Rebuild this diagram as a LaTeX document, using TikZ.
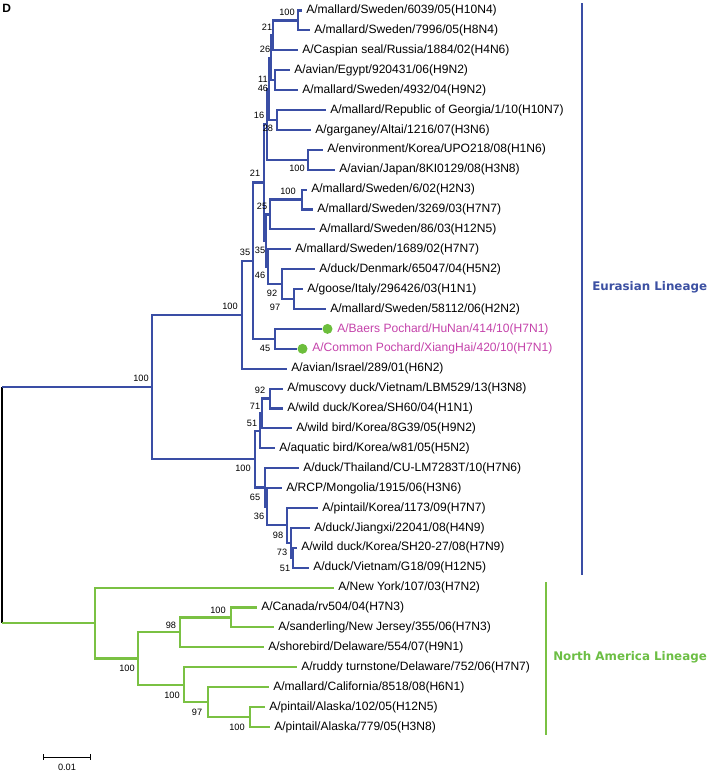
\documentclass[tikz,border=0pt]{standalone}
\usepackage{fontspec}
\setmainfont{Liberation Sans}
\newfontfamily\verd{DejaVu Sans}
\definecolor{eublue}{RGB}{58,78,165}
\definecolor{nagreen}{RGB}{122,193,67}
\definecolor{dotgreen}{RGB}{108,190,60}
\definecolor{pochard}{RGB}{196,66,170}
\definecolor{eutext}{RGB}{60,80,162}
\definecolor{natext}{RGB}{108,190,68}
\newcommand\leafat[4]{\coordinate (#1) at (#2,#3);\node[leaf] (t#1) at (#2+4,#3) {#4};}
\begin{document}
\begin{tikzpicture}[x=0.75pt,y=-0.75pt,
  eu/.style={draw=eublue,line width=1.6pt},
  na/.style={draw=nagreen,line width=1.6pt},
  leaf/.style={anchor=west,inner sep=0pt,font=\fontsize{9.05}{10}\selectfont},
  bs/.style={inner sep=0pt,font=\fontsize{6.9}{8}\selectfont},
  lin/.style={anchor=west,inner sep=0pt,font=\verd\bfseries\fontsize{8.9}{10}\selectfont},
  dotmark/.style={circle,fill=dotgreen,inner sep=0pt,minimum size=7.5pt}
]
\useasboundingbox (0,0) rectangle (708,772);
\node[anchor=north west,inner sep=0pt,font=\bfseries\fontsize{9}{10}\selectfont] (panel) at (2,4) {D};
% leaves
\leafat{L1}{302}{10.5}{A/mallard/Sweden/6039/05(H10N4)}
\leafat{L2}{310}{30.4}{A/mallard/Sweden/7996/05(H8N4)}
\leafat{L3}{298}{50.3}{A/Caspian seal/Russia/1884/02(H4N6)}
\leafat{L4}{290}{70.2}{A/avian/Egypt/920431/06(H9N2)}
\leafat{L5}{298}{90.1}{A/mallard/Sweden/4932/04(H9N2)}
\leafat{L6}{326}{110.0}{A/mallard/Republic of Georgia/1/10(H10N7)}
\leafat{L7}{311}{129.9}{A/garganey/Altai/1216/07(H3N6)}
\leafat{L8}{323}{149.8}{A/environment/Korea/UPO218/08(H1N6)}
\leafat{L9}{335}{169.7}{A/avian/Japan/8KI0129/08(H3N8)}
\leafat{L10}{307}{189.6}{A/mallard/Sweden/6/02(H2N3)}
\leafat{L11}{313}{209.5}{A/mallard/Sweden/3269/03(H7N7)}
\leafat{L12}{315}{229.4}{A/mallard/Sweden/86/03(H12N5)}
\leafat{L13}{291}{249.3}{A/mallard/Sweden/1689/02(H7N7)}
\leafat{L14}{315}{269.2}{A/duck/Denmark/65047/04(H5N2)}
\leafat{L15}{303}{289.1}{A/goose/Italy/296426/03(H1N1)}
\leafat{L16}{326}{309.0}{A/mallard/Sweden/58112/06(H2N2)}
\coordinate (L17) at (322,328.9);
\node[dotmark] (d17) at (327.5,328.9) {};
\node[leaf,text=pochard] (tL17) at (337,328.9) {A/Baers Pochard/HuNan/414/10(H7N1)};
\coordinate (L18) at (297,348.8);
\node[dotmark] (d18) at (302.5,348.8) {};
\node[leaf,text=pochard] (tL18) at (312,348.8) {A/Common Pochard/XiangHai/420/10(H7N1)};
\leafat{L19}{287}{368.7}{A/avian/Israel/289/01(H6N2)}
\leafat{L20}{283}{388.6}{A/muscovy duck/Vietnam/LBM529/13(H3N8)}
\leafat{L21}{283}{408.5}{A/wild duck/Korea/SH60/04(H1N1)}
\leafat{L22}{292}{428.4}{A/wild bird/Korea/8G39/05(H9N2)}
\leafat{L23}{275}{448.3}{A/aquatic bird/Korea/w81/05(H5N2)}
\leafat{L24}{299}{468.2}{A/duck/Thailand/CU-LM7283T/10(H7N6)}
\leafat{L25}{282}{488.1}{A/RCP/Mongolia/1915/06(H3N6)}
\leafat{L26}{318}{508.0}{A/pintail/Korea/1173/09(H7N7)}
\leafat{L27}{310}{527.9}{A/duck/Jiangxi/22041/08(H4N9)}
\leafat{L28}{297}{547.8}{A/wild duck/Korea/SH20-27/08(H7N9)}
\leafat{L29}{309}{567.7}{A/duck/Vietnam/G18/09(H12N5)}
\leafat{L30}{334}{587.6}{A/New York/107/03(H7N2)}
\leafat{L31}{257}{607.5}{A/Canada/rv504/04(H7N3)}
\leafat{L32}{274}{627.4}{A/sanderling/New Jersey/355/06(H7N3)}
\leafat{L33}{264}{647.3}{A/shorebird/Delaware/554/07(H9N1)}
\leafat{L34}{297}{667.2}{A/ruddy turnstone/Delaware/752/06(H7N7)}
\leafat{L35}{269}{687.1}{A/mallard/California/8518/08(H6N1)}
\leafat{L36}{265}{707.0}{A/pintail/Alaska/102/05(H12N5)}
\leafat{L37}{270}{726.9}{A/pintail/Alaska/779/05(H3N8)}
% internal nodes
\coordinate (nA) at (298,20.45);
\coordinate (nB) at (273,35.4);
\coordinate (nC) at (275,80.15);
\coordinate (nD) at (271,57.8);
\coordinate (nE) at (277,119.95);
\coordinate (nF) at (269,88.9);
\coordinate (nG) at (308,159.75);
\coordinate (nH) at (267,124.3);
\coordinate (nI) at (302,199.55);
\coordinate (nJ) at (270,214.5);
\coordinate (nK) at (294,299.05);
\coordinate (nL) at (282,284.1);
\coordinate (nM) at (268,266.7);
\coordinate (nN) at (266,240.6);
\coordinate (n21) at (264,182.45);
\coordinate (nP) at (275,338.85);
\coordinate (n35) at (253,260.65);
\coordinate (nU) at (242,314.7);
\coordinate (n92) at (270,398.55);
\coordinate (n71) at (262,413.5);
\coordinate (n51) at (260,430.9);
\coordinate (n51b) at (293,557.75);
\coordinate (n73) at (291,542.8);
\coordinate (n98) at (287,525.4);
\coordinate (n36) at (267,506.75);
\coordinate (n65) at (265,487.5);
\coordinate (nLo) at (255,459.2);
\coordinate (nEur) at (152,386.95);
\coordinate (n250) at (250,716.95);
\coordinate (n208) at (208,702);
\coordinate (n184) at (184,684.6);
\coordinate (n231) at (231,617.45);
\coordinate (n180) at (180,632.4);
\coordinate (n138) at (138,658.5);
\coordinate (n95) at (95,623.05);
\coordinate (root) at (2,505);
% root
\draw[black,line width=0.8pt] (nEur -| root) -- (n95 -| root);
\draw[eu] (nEur -| root) -- (nEur);
\draw[na] (n95 -| root) -- (n95);
% Eurasian branches
\foreach \p/\c in {nA/L1,nA/L2,nB/nA,nB/L3,nC/L4,nC/L5,nD/nB,nD/nC,nE/L6,nE/L7,
  nF/nD,nF/nE,nG/L8,nG/L9,nH/nF,nH/nG,nI/L10,nI/L11,nJ/nI,nJ/L12,nK/L15,nK/L16,
  nL/L14,nL/nK,nM/L13,nM/nL,nN/nJ,nN/nM,n21/nH,n21/nN,nP/L17,nP/L18,n35/n21,n35/nP,
  nU/n35,nU/L19,n92/L20,n92/L21,n71/n92,n71/L22,n51/n71,n51/L23,n51b/L28,n51b/L29,
  n73/L27,n73/n51b,n98/L26,n98/n73,n36/L25,n36/n98,n65/L24,n65/n36,nLo/n51,nLo/n65,
  nEur/nU,nEur/nLo}
  {\draw[eu] (\p) |- (\c);}
% North American branches
\foreach \p/\c in {n250/L36,n250/L37,n208/L35,n208/n250,n184/L34,n184/n208,
  n231/L31,n231/L32,n180/n231,n180/L33,n138/n180,n138/n184,n95/L30,n95/n138}
  {\draw[na] (\p) |- (\c);}
% bootstrap values
\node[bs] (b1) at (287,12) {100};
\node[bs] (b2) at (267,27) {21};
\node[bs] (b3) at (265,49) {26};
\node[bs] (b4) at (263,79) {11};
\node[bs] (b5) at (263,88) {46};
\node[bs] (b6) at (259,115) {16};
\node[bs] (b7) at (268,128) {28};
\node[bs] (b8) at (297,168) {100};
\node[bs] (b9) at (255,173) {21};
\node[bs] (b10) at (288,191) {100};
\node[bs] (b11) at (262,206) {25};
\node[bs] (b12) at (245,252) {35};
\node[bs] (b13) at (260,250) {35};
\node[bs] (b14) at (260,275) {46};
\node[bs] (b15) at (272,293) {92};
\node[bs] (b16) at (275,307) {97};
\node[bs] (b17) at (265,348) {45};
\node[bs] (b18) at (230,306) {100};
\node[bs] (b19) at (141,378) {100};
\node[bs] (b20) at (260,390) {92};
\node[bs] (b21) at (255,406) {71};
\node[bs] (b22) at (252,423) {51};
\node[bs] (b23) at (243,468) {100};
\node[bs] (b24) at (255,497) {65};
\node[bs] (b25) at (259,516) {36};
\node[bs] (b26) at (278,535) {98};
\node[bs] (b27) at (282,552) {73};
\node[bs] (b28) at (285,568) {51};
\node[bs] (b29) at (218,610) {100};
\node[bs] (b30) at (171,625) {98};
\node[bs] (b31) at (127,668) {100};
\node[bs] (b32) at (172,695) {100};
\node[bs] (b33) at (197,712) {97};
\node[bs] (b34) at (237,727) {100};
% lineage bars
\coordinate (eTop) at (582,3);
\coordinate (eBot) at (582,575);
\draw[draw=eublue,line width=1.3pt] (eTop) -- (eBot);
\node[lin,text=eutext] (eLab) at (592,287) {Eurasian Lineage};
\coordinate (nTop) at (546,582);
\coordinate (nBot) at (546,735);
\draw[draw=nagreen,line width=1.3pt] (nTop) -- (nBot);
\node[lin,text=natext] (nLab) at (553,657) {North America Lineage};
% scale bar
\coordinate (s1) at (43,757);
\coordinate (s2) at (90,757);
\draw[black,line width=0.7pt] (s1) -- (s2);
\draw[black,line width=0.7pt] ([yshift=2.2pt]s1) -- ([yshift=-2.2pt]s1);
\draw[black,line width=0.7pt] ([yshift=2.2pt]s2) -- ([yshift=-2.2pt]s2);
\node[bs] (sLab) at (67,767) {0.01};
\end{tikzpicture}
\end{document}
